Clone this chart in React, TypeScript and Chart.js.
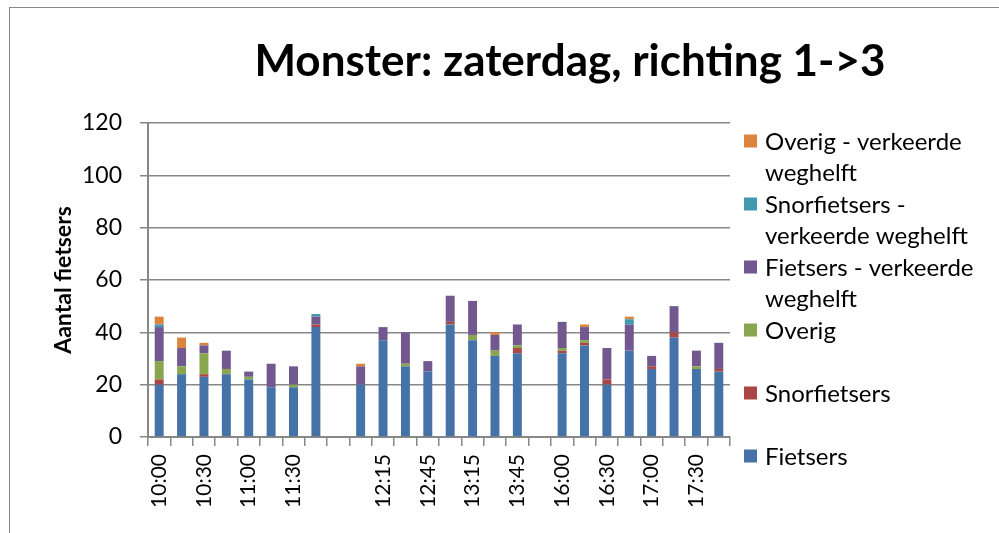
import React, { useEffect, useRef } from "react";
import { Chart, registerables } from "chart.js";

Chart.register(...registerables);

const categories = [
  "10:00", "10:15", "10:30", "10:45", "11:00", "11:15", "11:30", "11:45", "",
  "12:00", "12:15", "12:30", "12:45", "13:00", "13:15", "13:30", "13:45", "",
  "16:00", "16:15", "16:30", "16:45", "17:00", "17:15", "17:30", "17:45",
];

const fietsers = [20, 24, 23, 24, 22, 19, 19, 42, null, 20, 37, 27, 25, 43, 37, 31, 32, null, 32, 35, 20, 33, 26, 38, 26, 25];
const snorfietsers = [2, 0, 1, 0, 0, 0, 0, 1, null, 0, 0, 0, 0, 1, 0, 0, 2, null, 1, 1, 2, 0, 1, 2, 0, 1];
const overig = [7, 3, 8, 2, 1, 0, 1, 0, null, 0, 0, 1, 0, 0, 2, 2, 1, null, 1, 1, 0, 0, 0, 0, 1, 0];
const fietsersVW = [13, 7, 3, 7, 2, 9, 7, 3, null, 7, 5, 12, 4, 10, 13, 6, 8, null, 10, 5, 12, 10, 4, 10, 6, 10];
const snorfietsersVW = [1, 0, 0, 0, 0, 0, 0, 1, null, 0, 0, 0, 0, 0, 0, 0, 0, null, 0, 0, 0, 2, 0, 0, 0, 0];
const overigVW = [3, 4, 1, 0, 0, 0, 0, 0, null, 1, 0, 0, 0, 0, 0, 1, 0, null, 0, 1, 0, 1, 0, 0, 0, 0];

const seriesNames = [
  "Fietsers",
  "Snorfietsers",
  "Overig",
  "Fietsers - verkeerde weghelft",
  "Snorfietsers - verkeerde weghelft",
  "Overig - verkeerde weghelft",
];
const seriesColors = ["#4572A7", "#AA4643", "#89A54E", "#71588F", "#4198AF", "#DB843D"];

const titleText = "Monster: zaterdag, richting 1->3";
const yTitle = "Aantal fietsers";

const FONT = "Lato, 'Liberation Sans', sans-serif";

const customPlugin = {
  id: "customDecor",
  afterDraw(chart: any) {
    const ctx = chart.ctx;
    ctx.save();
    // title
    ctx.fillStyle = "#000";
    ctx.font = `bold 44px ${FONT}`;
    ctx.textAlign = "center";
    ctx.textBaseline = "alphabetic";
    ctx.fillText(titleText, 570, 76);
    // legend
    ctx.font = `24px ${FONT}`;
    ctx.textAlign = "left";
    ctx.textBaseline = "middle";
    const ds = chart.data.datasets;
    const lineH = 31.5;
    const maxW = 222;
    for (let k = 0; k < ds.length; k++) {
      const d = ds[ds.length - 1 - k];
      const y0 = 141 + 63 * k;
      ctx.fillStyle = d.backgroundColor;
      ctx.fillRect(744, y0 - 6.5, 13, 13);
      ctx.fillStyle = "#000";
      const words = String(d.label).split(" ");
      const lines: string[] = [];
      let cur = "";
      for (const w of words) {
        const t = cur ? cur + " " + w : w;
        if (cur && ctx.measureText(t).width > maxW) {
          lines.push(cur);
          cur = w;
        } else cur = t;
      }
      if (cur) lines.push(cur);
      lines.forEach((ln, i) => ctx.fillText(ln, 765, y0 + 1 + i * lineH));
    }
    ctx.restore();
  },
};

export default function App() {
  const ref = useRef<HTMLCanvasElement | null>(null);
  useEffect(() => {
    if (!ref.current) return;
    const data = [fietsers, snorfietsers, overig, fietsersVW, snorfietsersVW, overigVW];
    const chart = new Chart(ref.current, {
      type: "bar",
      data: {
        labels: categories,
        datasets: data.map((arr, i) => ({
          label: seriesNames[i],
          data: arr,
          backgroundColor: seriesColors[i],
          borderWidth: 0,
          barPercentage: 0.4,
          categoryPercentage: 1,
        })),
      },
      options: {
        animation: false,
        responsive: false,
        maintainAspectRatio: false,
        layout: { padding: { left: 0, top: 123, right: 269, bottom: 0 } },
        plugins: {
          legend: { display: false },
          title: { display: false },
          tooltip: { enabled: false },
        },
        scales: {
          x: {
            stacked: true,
            afterFit: (s: any) => { s.height = 96; },
            grid: {
              offset: true,
              drawOnChartArea: false,
              drawTicks: true,
              tickLength: 9,
              color: "#878787",
              lineWidth: 1.5,
            },
            border: { display: true, color: "#878787", width: 2 },
            ticks: {
              autoSkip: false,
              maxRotation: 90,
              minRotation: 90,
              padding: 8,
              color: "#000",
              font: { family: FONT, size: 21 },
              callback: (_v: any, i: number) => (i % 2 === 0 ? categories[i] : ""),
            },
          },
          y: {
            stacked: true,
            min: 0,
            max: 120,
            afterFit: (s: any) => { s.width = 148; },
            grid: { color: "#878787", lineWidth: 1.5, tickLength: 8 },
            border: { display: true, color: "#878787", width: 2 },
            ticks: {
              stepSize: 20,
              padding: 18,
              color: "#000",
              font: { family: FONT, size: 23 },
            },
            title: {
              display: true,
              text: yTitle,
              color: "#000",
              font: { family: FONT, size: 23, weight: "bold" },
              padding: { top: 50, bottom: 0 },
            },
          },
        },
      },
      plugins: [customPlugin],
    });
    return () => chart.destroy();
  }, []);
  return (
    <div style={{ position: "fixed", left: 0, top: 0, width: 999, height: 533, overflow: "hidden", background: "#fff" }}>
      <div style={{ position: "absolute", left: 9, top: 7, width: 1200, height: 800, borderLeft: "1.5px solid #888", borderTop: "1.5px solid #888" }} />
      <canvas ref={ref} width={999} height={533} style={{ position: "absolute", left: 0, top: 0 }} />
    </div>
  );
}
